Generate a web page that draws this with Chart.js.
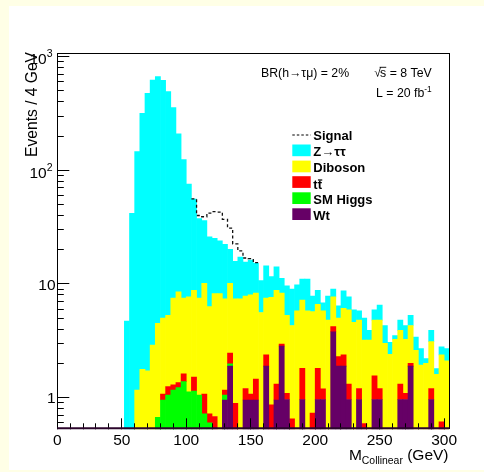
<!DOCTYPE html>
<html>
<head>
<meta charset="utf-8">
<script src="https://cdn.jsdelivr.net/npm/chart.js@4.4.0/dist/chart.umd.min.js"></script>
<style>
  html, body { margin: 0; padding: 0; background: #ffffe6; }
  canvas { display: block; }
</style>
</head>
<body>
<canvas id="mcoll" width="484" height="472"></canvas>
<script>
// M_collinear, 76 bins of 4 GeV from 0 to 304 GeV
const BIN_WIDTH = 4;
const X_MIN = 0, X_MAX = 304;
const Y_MIN = 0.525, Y_MAX = 1071;

// --- bin contents per sample ---
const wt = [
  0,0,0,0,0,0,0,0,0,0, 0,0,0,0,0,0,0,0,0,0,
  0,0,0,0,0,0,0,0,0,0, 0,0,0.95,1.89,0,0,0.95,0.95,0.95,0,
  1.89,0,0.95,2.84,0.96,0,0,0.96,0,0, 0.96,0.96,0,3.79,1.89,1.89,0.96,0,0.96,0,
  0,0.96,0.96,0,0,0,0.96,0.96,1.89,0, 0,0,0.96,0,0,0
];
const higgs = [
  0,0,0,0,0,0,0,0,0,0, 0,0,0,0,0,0,0,0,0,0.67,
  0.95,1.05,1.16,1.22,1.38,1.12,1.14,1.05,0.72,0.6, 0,0,0.1,0.09,0,0,0,0,0,0,
  0,0,0,0,0,0,0,0,0,0, 0,0,0,0,0,0,0,0,0,0,
  0,0,0,0,0,0,0,0,0,0, 0,0,0,0,0,0
];
const ttbar = [
  0,0,0,0,0,0,0,0,0,0, 0,0,0,0,0,0,0,0,0,0,
  0.12,0.2,0.13,0.13,0.24,0,0.37,0,0.35,0.12, 0.68,0,0.11,0.48,0.89,0,0.25,0.12,0.5,0,
  0.48,0.86,0.36,0.12,0.13,0.65,0,0.85,0,0.73, 0.85,0.23,0,0.41,0.4,0.48,0.35,0,0.24,0.59,
  0,0.59,0.24,0,0,0,0.35,0.13,0.11,0, 0,0,0.24,0,0.61,0
];
const diboson = [
  0,0,0,0,0,0,0,0,0,0, 0,0,0,0,0,1.16,1.77,1.72,2.9,3.83,
  3.93,4.05,6.21,7.15,5.88,6.58,7.29,6.45,9.03,5.58, 7.52,8.2,6.24,7.64,6.51,7.4,6.6,6.93,6.85,5.6,
  5.13,6.74,7.49,5.34,4.21,3.65,5.8,5.39,5.8,4.97, 4.79,4.61,4.8,3.5,2.71,3.73,4.59,4.6,3.6,2.61,
  3.2,3.25,3.6,3.0,2.4,3.25,2.59,2.16,2.3,2.6, 1.93,2.0,1.9,1.6,1.76,2.1
];
const ztautau = [
  0,0,0,0,0,0,0,0,0,0, 0,0,0,4.7,41.8,144.8,316.2,474.3,621,662.5,
  614,486.7,348.5,200.5,116.5,68,46.9,30,25.9,19.7, 17,15.7,14.9,10.1,8.4,9.8,7.8,8.2,6.9,5.1,
  6.9,4.0,5.3,2.9,4.3,4.7,4.0,3.8,5.2,2.1, 2.2,1.0,3.0,1.3,1.4,2.6,1.8,1.3,1.0,1.8,
  0.7,1.1,1.7,1.3,0.66,0.25,0.9,1.05,1.0,0.8, 0.77,0.2,0.8,0.2,0.43,0.6
];
// h -> tau mu signal, drawn on top of the background sum
const signal = [
  0,0,0,0,0,0,0,0,0,0, 0,0,0,0,0,0,0,0,0,0,
  0,0,0,0,0,0,0.3,2.5,3,16, 18,19,14.7,10.8,6.7,2.3,1.3,0.5,0.2,0,
  0,0,0,0,0,0,0,0,0,0, 0,0,0,0,0,0,0,0,0,0,
  0,0,0,0,0,0,0,0,0,0, 0,0,0,0,0,0
];

// --- axis ticks ---
const xMajorTicks = [0, 50, 100, 150, 200, 250, 300];
const xTickLabels = ['0', '50', '100', '150', '200', '250', '300'];
const yMajorTicks = [1, 10, 100, 1000];
const yLabelBase = ['1', '10', '10', '10'];
const yLabelExp = ['', '', '2', '3'];

const xMinorTicks = [];
for (let v = 10; v < X_MAX; v += 10) if (v % 50 !== 0) xMinorTicks.push(v);
const yMinorTicks = [];
for (const dec of [0.1, 1, 10, 100]) {
  for (let k = 2; k <= 9; k++) {
    const v = k * dec;
    if (v > Y_MIN && v < Y_MAX) yMinorTicks.push(v);
  }
}

const COLORS = {
  wt: '#660066',
  higgs: '#00ff00',
  ttbar: '#ff0000',
  diboson: '#ffff00',
  ztautau: '#00ffff'
};
const FONT = "'Liberation Sans', Arial, Helvetica, sans-serif";

const binCenters = wt.map((_, i) => (i + 0.5) * BIN_WIDTH);
const toBars = vals => vals.map((v, i) => ({ x: binCenters[i], y: v > 0 ? v : null }));

// signal outline: step line over the stacked total
const stackTotal = wt.map((_, i) => wt[i] + higgs[i] + ttbar[i] + diboson[i] + ztautau[i]);
const signalSteps = [];
signal.forEach((s, i) => {
  if (s > 0) {
    const top = stackTotal[i] + s;
    signalSteps.push({ x: i * BIN_WIDTH, y: top }, { x: (i + 1) * BIN_WIDTH, y: top });
  }
});

function barSet(label, vals, color) {
  return {
    type: 'bar', label, data: toBars(vals), stack: 'bkg',
    backgroundColor: color, borderWidth: 0,
    barPercentage: 1, categoryPercentage: 1
  };
}

// text with a raised exponent, right aligned at xr
function supText(ctx, base, exp, xr, baseline, size) {
  ctx.font = `${size}px ${FONT}`;
  const wb = ctx.measureText(base).width;
  ctx.font = `${size * 0.68}px ${FONT}`;
  const we = exp ? ctx.measureText(exp).width : 0;
  const x0 = xr - wb - we;
  ctx.font = `${size}px ${FONT}`;
  ctx.textAlign = 'left';
  ctx.fillText(base, x0, baseline);
  if (exp) {
    ctx.font = `${size * 0.68}px ${FONT}`;
    ctx.fillText(exp, x0 + wb, baseline - size * 0.45);
  }
}

const histDecor = {
  id: 'histDecor',
  beforeDraw(chart) {
    const ctx = chart.ctx;
    ctx.save();
    ctx.fillStyle = '#ffffe6';
    ctx.fillRect(0, 0, chart.width, chart.height);
    ctx.fillStyle = '#ffffff';
    ctx.fillRect(9, 6, chart.width - 9, 464);
    ctx.restore();
  },
  afterDatasetsDraw(chart) {
    const ctx = chart.ctx;
    const { left, right, top, bottom } = chart.chartArea;
    const xs = chart.scales.x, ys = chart.scales.y;
    const snap = p => Math.floor(p) + 0.5;
    ctx.save();
    ctx.strokeStyle = '#000';
    ctx.lineWidth = 1;
    ctx.beginPath();
    xMajorTicks.forEach(v => { const p = snap(xs.getPixelForValue(v)); ctx.moveTo(p, bottom); ctx.lineTo(p, bottom - 11); });
    xMinorTicks.forEach(v => { const p = snap(xs.getPixelForValue(v)); ctx.moveTo(p, bottom); ctx.lineTo(p, bottom - 6); });
    yMajorTicks.forEach(v => { const p = snap(ys.getPixelForValue(v)); ctx.moveTo(left, p); ctx.lineTo(left + 12, p); });
    yMinorTicks.forEach(v => { const p = snap(ys.getPixelForValue(v)); ctx.moveTo(left, p); ctx.lineTo(left + 6.5, p); });
    ctx.stroke();
    ctx.strokeRect(snap(left), snap(top), Math.round(right - left), Math.round(bottom - top) - 1);
    // bottom edge, thickened by the histogram outline
    ctx.strokeStyle = '#2b052b';
    ctx.lineWidth = 2;
    ctx.beginPath();
    ctx.moveTo(left, bottom - 1);
    ctx.lineTo(right, bottom - 1);
    ctx.stroke();
    ctx.restore();
  },
  afterDraw(chart) {
    const ctx = chart.ctx;
    const { bottom } = chart.chartArea;
    const xs = chart.scales.x, ys = chart.scales.y;
    ctx.save();
    ctx.fillStyle = '#000';
    ctx.textBaseline = 'alphabetic';

    // x tick labels
    ctx.font = `15.5px ${FONT}`;
    ctx.textAlign = 'center';
    xMajorTicks.forEach((v, i) => ctx.fillText(xTickLabels[i], xs.getPixelForValue(v), bottom + 16));

    // y tick labels
    yMajorTicks.forEach((v, i) => {
      const p = ys.getPixelForValue(v);
      if (yLabelExp[i]) supText(ctx, yLabelBase[i], yLabelExp[i], 52.5, p + 7.5, 15.5);
      else supText(ctx, yLabelBase[i], '', 55.6, p + 5.6, 15.5);
    });

    // y title
    ctx.save();
    ctx.translate(36.5, 52);
    ctx.rotate(-Math.PI / 2);
    ctx.font = `15.6px ${FONT}`;
    ctx.textAlign = 'right';
    ctx.fillText('Events / 4 GeV', 0, 0);
    ctx.restore();

    // x title: M_Collinear (GeV)
    {
      const xr = 448.5, base = 460;
      ctx.font = `15.5px ${FONT}`;
      const wUnit = ctx.measureText(' (GeV)').width;
      const wM = ctx.measureText('M').width;
      ctx.font = `10.4px ${FONT}`;
      const wSub = ctx.measureText('Collinear').width;
      let x = xr - wUnit - wSub - wM;
      ctx.textAlign = 'left';
      ctx.font = `15.5px ${FONT}`;
      ctx.fillText('M', x, base);
      ctx.font = `10.4px ${FONT}`;
      ctx.fillText('Collinear', x + wM, base + 4);
      ctx.font = `15.5px ${FONT}`;
      ctx.fillText(' (GeV)', x + wM + wSub, base);
    }

    // annotations
    ctx.font = `12.3px ${FONT}`;
    ctx.textAlign = 'left';
    ctx.fillText('BR(h\u2192\u03c4\u03bc) = 2%', 261, 76.7);
    {
      const xr = 431.7;
      const rest = 's = 8 TeV';
      const wRest = ctx.measureText(rest).width;
      const wRoot = ctx.measureText('\u221a').width;
      const ws = ctx.measureText('s').width;
      const x0 = xr - wRest - wRoot + 1;
      ctx.fillText('\u221a', x0, 76.7);
      ctx.fillText(rest, x0 + wRoot - 1, 76.7);
      ctx.lineWidth = 0.9;
      ctx.beginPath();
      ctx.moveTo(x0 + wRoot - 1.5, 67.3);
      ctx.lineTo(x0 + wRoot - 1 + ws, 67.3);
      ctx.stroke();
    }
    supText(ctx, 'L = 20 fb', '-1', 431.7, 97.3, 12.3);

    // legend
    const lx = 292.3, tx = 313.3;
    ctx.setLineDash([2.5, 2]);
    ctx.lineWidth = 1.2;
    ctx.strokeStyle = '#000';
    ctx.beginPath();
    ctx.moveTo(lx, 135);
    ctx.lineTo(lx + 18.4, 135);
    ctx.stroke();
    ctx.setLineDash([]);
    ctx.font = `bold 13px ${FONT}`;
    ctx.textAlign = 'left';
    ctx.fillText('Signal', tx, 139.6);

    const entries = [
      ['Z\u2192\u03c4\u03c4', COLORS.ztautau, 144.5],
      ['Diboson', COLORS.diboson, 160.6],
      ['', COLORS.ttbar, 176.2],
      ['SM Higgs', COLORS.higgs, 192.3],
      ['Wt', COLORS.wt, 208.3]
    ];
    entries.forEach(([txt, col, y]) => {
      ctx.fillStyle = col;
      ctx.fillRect(lx, y, 18.4, 11.7);
      ctx.fillStyle = '#000';
      if (txt) ctx.fillText(txt, tx, y + 11.6);
    });
    // t tbar
    ctx.fillText('tt', tx, 189.4);
    const wt1 = ctx.measureText('t').width;
    ctx.lineWidth = 1.2;
    ctx.beginPath();
    ctx.moveTo(tx + wt1 + 0.3, 180);
    ctx.lineTo(tx + 2 * wt1 + 0.3, 180);
    ctx.stroke();
    ctx.restore();
  }
};

new Chart(document.getElementById('mcoll'), {
  data: {
    datasets: [
      {
        type: 'line', label: 'Signal', data: signalSteps, stack: 'sig',
        borderColor: '#111', borderWidth: 1.3, borderDash: [3, 2.5],
        pointRadius: 0, fill: false, tension: 0
      },
      barSet('Wt', wt, COLORS.wt),
      barSet('SM Higgs', higgs, COLORS.higgs),
      barSet('ttbar', ttbar, COLORS.ttbar),
      barSet('Diboson', diboson, COLORS.diboson),
      barSet('Z->tautau', ztautau, COLORS.ztautau)
    ]
  },
  options: {
    responsive: false,
    animation: false,
    devicePixelRatio: 1,
    events: [],
    layout: { padding: { left: 57.3, top: 53.3, right: 34.7, bottom: 42.7 } },
    plugins: { legend: { display: false }, tooltip: { enabled: false } },
    scales: {
      x: {
        type: 'linear', min: X_MIN, max: X_MAX, display: false, offset: false,
        afterBuildTicks: s => { s.ticks = xMajorTicks.map(v => ({ value: v })); }
      },
      y: { type: 'logarithmic', min: Y_MIN, max: Y_MAX, stacked: true, display: false }
    }
  },
  plugins: [histDecor]
});
</script>
</body>
</html>
